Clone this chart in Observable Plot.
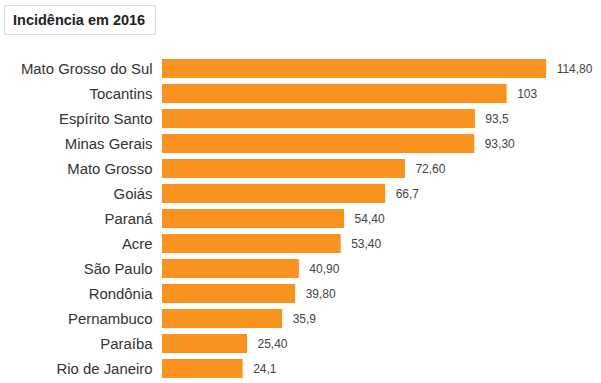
<!DOCTYPE html>
<html>
<head>
<meta charset="utf-8">
<script src="https://cdn.jsdelivr.net/npm/d3@7"></script>
<script src="https://cdn.jsdelivr.net/npm/@observablehq/plot@0.6"></script>
<style>
  html, body { margin: 0; padding: 0; background: #fff; overflow: hidden; }
  body { width: 601px; height: 383px; font-family: "Liberation Sans", Arial, Helvetica, sans-serif; }
  #head { height: 45px; position: relative; }
  #title {
    position: absolute; left: 4px; top: 5px; width: 150px; height: 28px;
    border: 1px solid #dcdcdc; box-sizing: content-box;
    font-weight: bold; font-size: 14.5px; color: #222;
    line-height: 28px; text-indent: 8px; white-space: nowrap;
  }
  #chart svg { display: block; }
</style>
</head>
<body>
<div id="head"><div id="title">Incidência em 2016</div></div>
<div id="chart"></div>
<script>
const states = ["Mato Grosso do Sul", "Tocantins", "Espírito Santo", "Minas Gerais", "Mato Grosso", "Goiás", "Paraná", "Acre", "São Paulo", "Rondônia", "Pernambuco", "Paraíba", "Rio de Janeiro"];
const values = [114.8, 103, 93.5, 93.3, 72.6, 66.7, 54.4, 53.4, 40.9, 39.8, 35.9, 25.4, 24.1];
const valueLabels = ["114,80", "103", "93,5", "93,30", "72,60", "66,7", "54,40", "53,40", "40,90", "39,80", "35,9", "25,40", "24,1"];

const data = states.map((s, i) => ({state: s, value: values[i], label: valueLabels[i]}));

const chart = Plot.plot({
  width: 601,
  height: 338,
  marginLeft: 162,
  marginRight: 4,
  marginTop: 12,
  marginBottom: 4,
  style: {fontFamily: '"Liberation Sans", Arial, Helvetica, sans-serif', background: "#fff"},
  x: {domain: [0, 130], axis: null},
  y: {domain: states, paddingInner: 0.24, paddingOuter: 0, label: null},
  marks: [
    Plot.barX(data, {y: "state", x: "value", fill: "#f7931e"}),
    Plot.text(data, {y: "state", x: "value", text: "label", textAnchor: "start", dx: 10, fontSize: 12, fill: "#444"}),
    Plot.axisY({tickSize: 0, tickPadding: 10, fontSize: 14.9, label: null, color: "#333"})
  ]
});
document.getElementById("chart").appendChild(chart);
</script>
</body>
</html>
